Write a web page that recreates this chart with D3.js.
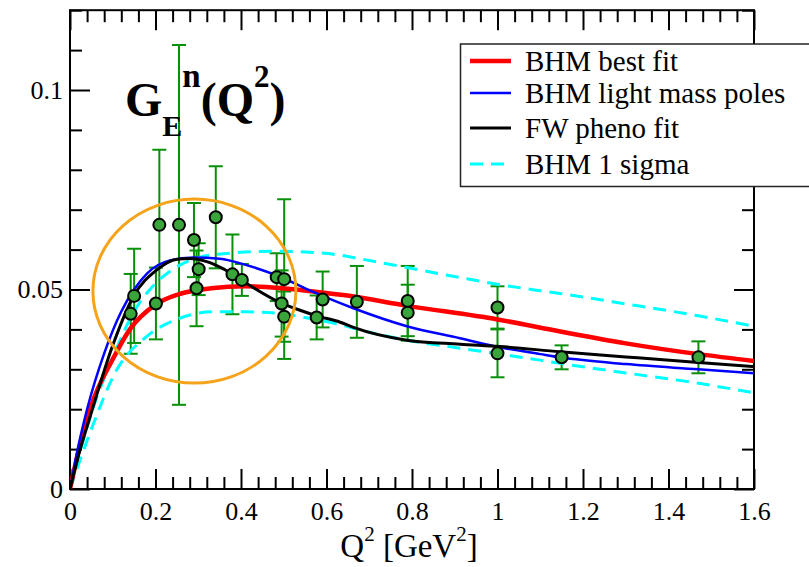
<!DOCTYPE html>
<html><head><meta charset="utf-8">
<script src="https://cdn.jsdelivr.net/npm/d3@7"></script>
<style>
body{margin:0;background:#fff}
svg{display:block}
text{font-family:"Liberation Serif","DejaVu Serif","Times New Roman",Times,serif}
</style>
</head><body>
<svg id="c" width="809" height="567"></svg>
<script>
// ---------- data ----------
const xTickValues = [0,0.2,0.4,0.6,0.8,1.0,1.2,1.4,1.6];
const xTickLabels = ["0","0.2","0.4","0.6","0.8","1","1.2","1.4","1.6"];
const yTickValues = [0,0.05,0.1];
const yTickLabels = ["0","0.05","0.1"];

const dataQ2  = [0.142,0.150,0.201,0.209,0.255,0.290,0.296,0.301,0.341,0.380,0.402,0.4835,0.495,0.501,0.501,0.577,0.591,0.671,0.790,0.790,1.000,1.000,1.150,1.470];
const dataGE  = [0.0439,0.0484,0.0465,0.0662,0.0662,0.0624,0.0503,0.0551,0.0681,0.0538,0.0524,0.0531,0.0465,0.0526,0.0432,0.0430,0.0475,0.0469,0.0471,0.0442,0.0455,0.0340,0.0330,0.0330];
const dataErr = [0.0100,0.0118,0.0090,0.0188,0.0451,0.0093,0.0095,0.0065,0.0128,0.0100,0.0040,0.0060,0.0083,0.0200,0.0063,0.0055,0.0070,0.0090,0.0088,0.0070,0.0053,0.0060,0.0030,0.0040];

const bestFitQ2 = [0,0.02,0.05,0.1,0.14,0.2,0.26,0.33,0.41,0.49,0.57,0.64,0.79,1.0,1.15,1.3,1.47,1.6];
const bestFitGE = [0,0.0095,0.021,0.0325,0.040,0.0462,0.049,0.0503,0.0508,0.0504,0.0495,0.0486,0.0459,0.0425,0.0394,0.0365,0.0338,0.0321];

const lightPolesQ2 = [0,0.02,0.04,0.08,0.12,0.15,0.18,0.234,0.29,0.35,0.413,0.491,0.569,0.663,0.788,0.912,1.006,1.1,1.146,1.3,1.47,1.6];
const lightPolesGE = [0,0.011,0.020,0.034,0.0445,0.0500,0.0540,0.0573,0.0580,0.0577,0.0561,0.0532,0.0494,0.0453,0.0408,0.0378,0.0355,0.0338,0.0330,0.0313,0.0300,0.0290];

const phenoQ2 = [0,0.02,0.047,0.1,0.148,0.203,0.25,0.28,0.32,0.36,0.40,0.49,0.538,0.577,0.632,0.663,0.788,0.912,1.006,1.146,1.3,1.47,1.6];
const phenoGE = [0,0.0085,0.0181,0.036,0.0482,0.0549,0.0576,0.0578,0.0570,0.0551,0.0524,0.0468,0.0448,0.0434,0.0418,0.0405,0.0373,0.0363,0.0357,0.0344,0.0331,0.0317,0.0307];

const sigmaUpQ2 = [0,0.05,0.1,0.15,0.2,0.257,0.304,0.374,0.49,0.55,0.632,0.663,0.788,0.912,1.006,1.1,1.146,1.3,1.47,1.6];
const sigmaUpGE = [0,0.019,0.033,0.0445,0.0515,0.0561,0.0581,0.0591,0.0596,0.0594,0.0586,0.0580,0.0555,0.0530,0.0512,0.0497,0.0490,0.0464,0.0434,0.0408];

const sigmaLoQ2 = [0,0.05,0.109,0.179,0.257,0.335,0.413,0.491,0.538,0.569,0.632,0.663,0.788,0.912,1.006,1.099,1.146,1.3,1.47,1.6];
const sigmaLoGE = [0,0.015,0.0298,0.0382,0.0428,0.0444,0.0444,0.0440,0.0432,0.0426,0.0412,0.0403,0.0373,0.0353,0.0338,0.0323,0.0315,0.0291,0.0265,0.0241];

const legendLabels = ["BHM best fit","BHM light mass poles","FW pheno fit","BHM 1 sigma"];

const ellipseCenter = [0.291, 0.0496];
const ellipseRadii  = [0.2374, 0.02306];

// ---------- layout ----------
const svg = d3.select("#c");
const L = 70, R = 754, T = 10.2, B = 489;
const x = d3.scaleLinear().domain([0,1.6]).range([L,R]);
const y = d3.scaleLinear().domain([0,0.12]).range([B,T]);

const serif = '"Liberation Serif","DejaVu Serif","Times New Roman",Times,serif';

svg.append("defs").append("clipPath").attr("id","plotclip")
  .append("rect").attr("x",L).attr("y",T).attr("width",R-L).attr("height",B-T);

// ---------- axes / ticks ----------
const xMinor = d3.range(0,1.6001,0.04).filter(v => Math.abs(v/0.2 - Math.round(v/0.2)) > 1e-6);
const yMinor = d3.range(0,0.12001,0.01).filter(v => Math.abs(v/0.05 - Math.round(v/0.05)) > 1e-6);

function styleAxis(g, size){
  g.select(".domain").remove();
  g.selectAll(".tick line").attr("stroke","#000").attr("stroke-width",2);
  g.attr("font-family",serif).attr("font-size",size);
  g.selectAll(".tick text").attr("fill","#000");
}

svg.append("g").attr("transform",`translate(0,${B})`)
  .call(d3.axisBottom(x).tickValues(xTickValues).tickSize(-20).tickPadding(13)
        .tickFormat((d,i)=>xTickLabels[i]))
  .call(g=>styleAxis(g,26));
svg.append("g").attr("transform",`translate(0,${B})`)
  .call(d3.axisBottom(x).tickValues(xMinor).tickSize(-12).tickFormat(""))
  .call(g=>styleAxis(g,26));
svg.append("g").attr("transform",`translate(0,${T})`)
  .call(d3.axisTop(x).tickValues(xTickValues).tickSize(-20).tickFormat(""))
  .call(g=>styleAxis(g,26));
svg.append("g").attr("transform",`translate(0,${T})`)
  .call(d3.axisTop(x).tickValues(xMinor).tickSize(-12).tickFormat(""))
  .call(g=>styleAxis(g,26));
svg.append("g").attr("transform",`translate(${L},0)`)
  .call(d3.axisLeft(y).tickValues(yTickValues).tickSize(-20).tickPadding(7)
        .tickFormat((d,i)=>yTickLabels[i]))
  .call(g=>styleAxis(g,26));
svg.append("g").attr("transform",`translate(${L},0)`)
  .call(d3.axisLeft(y).tickValues(yMinor).tickSize(-12).tickFormat(""))
  .call(g=>styleAxis(g,26));
svg.append("g").attr("transform",`translate(${R},0)`)
  .call(d3.axisRight(y).tickValues(yTickValues).tickSize(-20).tickFormat(""))
  .call(g=>styleAxis(g,26));
svg.append("g").attr("transform",`translate(${R},0)`)
  .call(d3.axisRight(y).tickValues(yMinor).tickSize(-12).tickFormat(""))
  .call(g=>styleAxis(g,26));

svg.append("rect").attr("x",L).attr("y",T).attr("width",R-L).attr("height",B-T)
  .attr("fill","none").attr("stroke","#000").attr("stroke-width",2);

// ---------- marks ----------
const plot = svg.append("g").attr("clip-path","url(#plotclip)");
const line = d3.line().x(d=>x(d[0])).y(d=>y(d[1])).curve(d3.curveMonotoneX);
const zip = (a,b)=>a.map((v,i)=>[v,b[i]]);

const pts = dataQ2.map((q,i)=>({q, g:dataGE[i], e:dataErr[i]}));
const eb = plot.append("g").attr("stroke","#089008").attr("stroke-width",2);
pts.forEach(p=>{
  eb.append("line").attr("x1",x(p.q)).attr("x2",x(p.q)).attr("y1",y(p.g-p.e)).attr("y2",y(p.g+p.e));
  [p.g-p.e, p.g+p.e].forEach(v=>{
    eb.append("line").attr("x1",x(p.q)-7).attr("x2",x(p.q)+7).attr("y1",y(v)).attr("y2",y(v));
  });
});

plot.append("path").datum(zip(sigmaUpQ2,sigmaUpGE)).attr("d",line)
  .attr("fill","none").attr("stroke","#00ffff").attr("stroke-width",3).attr("stroke-dasharray","13,8");
plot.append("path").datum(zip(sigmaLoQ2,sigmaLoGE)).attr("d",line)
  .attr("fill","none").attr("stroke","#00ffff").attr("stroke-width",3).attr("stroke-dasharray","13,8");
plot.append("path").datum(zip(bestFitQ2,bestFitGE)).attr("d",line)
  .attr("fill","none").attr("stroke","#ff0000").attr("stroke-width",4.5);
plot.append("path").datum(zip(lightPolesQ2,lightPolesGE)).attr("d",line)
  .attr("fill","none").attr("stroke","#0000ff").attr("stroke-width",2.5);
plot.append("path").datum(zip(phenoQ2,phenoGE)).attr("d",line)
  .attr("fill","none").attr("stroke","#000000").attr("stroke-width",3);

plot.append("g").selectAll("circle").data(pts).join("circle")
  .attr("cx",d=>x(d.q)).attr("cy",d=>y(d.g)).attr("r",6)
  .attr("fill","#3aa53a").attr("stroke","#000").attr("stroke-width",2);

svg.append("ellipse")
  .attr("cx",x(ellipseCenter[0])).attr("cy",y(ellipseCenter[1]))
  .attr("rx",x(ellipseCenter[0]+ellipseRadii[0])-x(ellipseCenter[0]))
  .attr("ry",y(ellipseCenter[1]-ellipseRadii[1])-y(ellipseCenter[1]))
  .attr("fill","none").attr("stroke","#f5a31a").attr("stroke-width",3);

// ---------- title ----------
const title = svg.append("text").attr("x",125).attr("y",116)
  .attr("font-family",serif).attr("font-weight","bold").attr("font-size",48).attr("fill","#000");
title.append("tspan").text("G");
title.append("tspan").attr("font-size",30).attr("dy",20).text("E");
title.append("tspan").attr("font-size",33).attr("dy",-49).text("n");
title.append("tspan").attr("font-size",48).attr("dy",29).text("(Q");
title.append("tspan").attr("font-size",31).attr("dy",-29).text("2");
title.append("tspan").attr("font-size",48).attr("dy",29).text(")");

// ---------- x label ----------
const xl = svg.append("text").attr("x",409).attr("y",557).attr("text-anchor","middle")
  .attr("font-family",serif).attr("font-size",33).attr("fill","#000");
xl.append("tspan").text("Q");
xl.append("tspan").attr("font-size",21).attr("dy",-16).text("2");
xl.append("tspan").attr("dy",16).text(" [GeV");
xl.append("tspan").attr("font-size",21).attr("dy",-16).text("2");
xl.append("tspan").attr("dy",16).text("]");

// ---------- legend ----------
const lg = svg.append("g");
lg.append("rect").attr("x",460.5).attr("y",44).attr("width",400).attr("height",142.5)
  .attr("fill","#fff").attr("stroke","#222").attr("stroke-width",1.5);
const legLineY = [61,93,128,164];
const legTextY = [71,103,138,174];
const legStyles = [
  {c:"#ff0000", w:4.5, d:null},
  {c:"#0000ff", w:2.5, d:null},
  {c:"#000000", w:3, d:null},
  {c:"#00ffff", w:3, d:"13,8"}
];
legendLabels.forEach((t,i)=>{
  const s = legStyles[i];
  const ln = lg.append("line").attr("x1",470).attr("x2",511).attr("y1",legLineY[i]).attr("y2",legLineY[i])
    .attr("stroke",s.c).attr("stroke-width",s.w);
  if (s.d) ln.attr("stroke-dasharray",s.d);
  lg.append("text").attr("x",525).attr("y",legTextY[i]).attr("font-family",serif)
    .attr("font-size",29).attr("fill","#000").text(t);
});
</script>
</body></html>
